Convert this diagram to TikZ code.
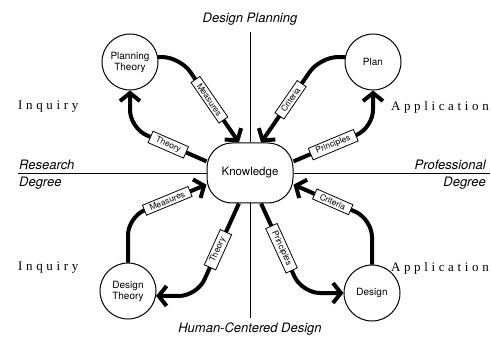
\documentclass[tikz,border=0pt]{standalone}
\usepackage{fontspec}
\setsansfont{TeX Gyre Heros}
\newfontfamily\spacedserif[LetterSpace=28]{Liberation Serif}
\usetikzlibrary{arrows.meta}

\tikzstyle{place} = [circle, minimum size = 56pt, inner sep = 0pt, 
	align = center, line width = 1pt, draw = black, 
	font = \sffamily\fontsize{10}{11}\selectfont]
\tikzstyle{hub} = [rectangle, rounded corners = 25pt, minimum width = 86pt, 
	minimum height = 60pt, line width = 1pt, draw = black, fill = white, 
	font = \sffamily\fontsize{11.5}{13}\selectfont]
\tikzstyle{tag} = [rectangle, sharp corners, arrows = -, sloped, draw = black, 
	fill = white, line width = 0.8pt, inner xsep = 6pt, inner ysep = 2.2pt, 
	font = \sffamily\fontsize{8.5}{9}\selectfont]
\tikzstyle{flow} = [line width = 4pt, rounded corners = 18pt, 
	-{Straight Barb[length = 8pt, width = 20pt]}]
\tikzstyle{axis} = [line width = 0.7pt]
\tikzstyle{heading} = [inner sep = 0pt, font = \sffamily\itshape\fontsize{13}{15}\selectfont]
\tikzstyle{mode} = [inner sep = 0pt, font = \spacedserif\fontsize{13}{15}\selectfont]

\begin{document}
\begin{tikzpicture}[x = 1pt, y = -1pt]
\useasboundingbox (0,0) rectangle (491,345);

\node (K) [hub] at (250,173) {Knowledge};

\node (PT) [place] at (130,62) {Planning\\Theory};
\node (PL) [place] at (373,62) {Plan};
\node (DT) [place] at (128,291) {Design\\Theory};
\node (DS) [place] at (372,293) {Design};

% axes
\coordinate (top) at (250,32);
\coordinate (bottom) at (250,318);
\coordinate (left) at (18,173);
\coordinate (right) at (490,173);
\draw [axis] (top) -- (K);
\draw [axis] (K) -- (bottom);
\draw [axis] (left) -- (K);
\draw [axis] (K) -- (right);

\node (DP) [heading] at (250,19) {Design Planning};
\node (HC) [heading] at (250,329) {Human-Centered Design};
\node (RD) [heading, anchor = base west] at (19,170) {Research};
\node (RD2) [heading, anchor = north west] at (19,177) {Degree};
\node (PD) [heading, anchor = base east] at (486,170) {Professional};
\node (PD2) [heading, anchor = north east] at (486,177) {Degree};

\node (IQ1) [mode, anchor = west] at (18,107) {Inquiry};
\node (IQ2) [mode, anchor = west] at (18,268) {Inquiry};
\node (AP1) [mode, anchor = east] at (489,107) {Application};
\node (AP2) [mode, anchor = east] at (489,268) {Application};

% planning theory loop
\draw [flow] (PT.10) -- (180,57) -- node [tag] {Measures} (K.110);
\draw [flow] (K.165) -- node [tag] {Theory} (130,128) -- (PT.south);

% plan loop
\draw [flow] (PL.170) -- (320,57) -- node [tag] {Criteria} (K.70);
\draw [flow] (K.15) -- node [tag] {Principles} (373,128) -- (PL.south);

% design theory loop
\draw [flow] (DT.north) -- (128,217) -- node [tag] {Measures} (K.195);
\draw [flow] (K.250) -- node [tag] {Theory} (197,296) -- (DT.-10);

% design loop
\draw [flow] (DS.north) -- (372,219) -- node [tag] {Criteria} (K.345);
\draw [flow] (K.290) -- node [tag] {Principles} (302,293) -- (DS.west);
\end{tikzpicture}
\end{document}
